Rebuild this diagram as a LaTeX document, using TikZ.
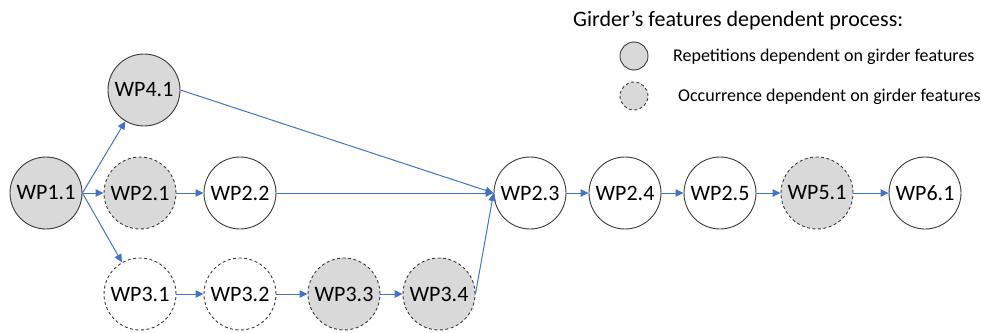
\documentclass[tikz,border=0pt]{standalone}
\usepackage{fontspec}
\setmainfont{Carlito}
\usetikzlibrary{arrows.meta}
\definecolor{arrowblue}{HTML}{4472C4}
\definecolor{nodegray}{HTML}{D9D9D9}
\definecolor{edgegray}{HTML}{3A3A3A}
\begin{document}
\begin{tikzpicture}[x=1pt,y=-1pt,
  wp/.style={circle,draw=edgegray,line width=0.9pt,minimum size=72pt,inner sep=0pt,font=\fontsize{22}{24}\selectfont},
  rep/.style={wp,fill=nodegray},
  occ/.style={wp,dashed,dash pattern=on 3pt off 2.5pt},
  occfill/.style={occ,fill=nodegray},
  legc/.style={circle,draw=edgegray,line width=0.9pt,minimum size=28pt,inner sep=0pt,fill=nodegray},
  conn/.style={draw=arrowblue,line width=1pt,-{Triangle[length=8pt,width=7.5pt]}},
  legtext/.style={anchor=west,font=\fontsize{18}{20}\selectfont,inner sep=0pt}
]
\useasboundingbox (0,0) rectangle (981,332);
% legend
\node[anchor=west,inner sep=0pt,font=\fontsize{22}{24}\selectfont] (title) at (573,21) {Girder’s features dependent process:};
\node[legc] (lc1) at (634,56) {};
\node[legc,dashed,dash pattern=on 3pt off 2.5pt] (lc2) at (634,96) {};
\node[legtext] (lt1) at (673,57) {Repetitions dependent on girder features};
\node[legtext] (lt2) at (678,97) {Occurrence dependent on girder features};
% nodes
\node[rep] (wp11) at (46,193) {WP1.1};
\node[rep] (wp41) at (144,90) {WP4.1};
\node[occfill] (wp21) at (140,193) {WP2.1};
\node[wp] (wp22) at (240,193) {WP2.2};
\node[occ] (wp31) at (140,294) {WP3.1};
\node[occ] (wp32) at (240,294) {WP3.2};
\node[occfill] (wp33) at (344,294) {WP3.3};
\node[occfill] (wp34) at (439,294) {WP3.4};
\node[wp] (wp23) at (530,193) {WP2.3};
\node[wp] (wp24) at (625,193) {WP2.4};
\node[wp] (wp25) at (720,193) {WP2.5};
\node[occfill] (wp51) at (817,193) {WP5.1};
\node[wp] (wp61) at (925,193) {WP6.1};
% connectors
\draw[conn] (wp11.east) -- (wp41);
\draw[conn] (wp11.east) -- (wp21);
\draw[conn] (wp11.east) -- (wp31);
\draw[conn] (wp21) -- (wp22);
\draw[conn] (wp31) -- (wp32);
\draw[conn] (wp32) -- (wp33);
\draw[conn] (wp33) -- (wp34);
\draw[conn] (wp41.east) -- (wp23.west);
\draw[conn] (wp22) -- (wp23);
\draw[conn] (wp34.east) -- (wp23.west);
\draw[conn] (wp23) -- (wp24);
\draw[conn] (wp24) -- (wp25);
\draw[conn] (wp25) -- (wp51);
\draw[conn] (wp51) -- (wp61);
\end{tikzpicture}
\end{document}
